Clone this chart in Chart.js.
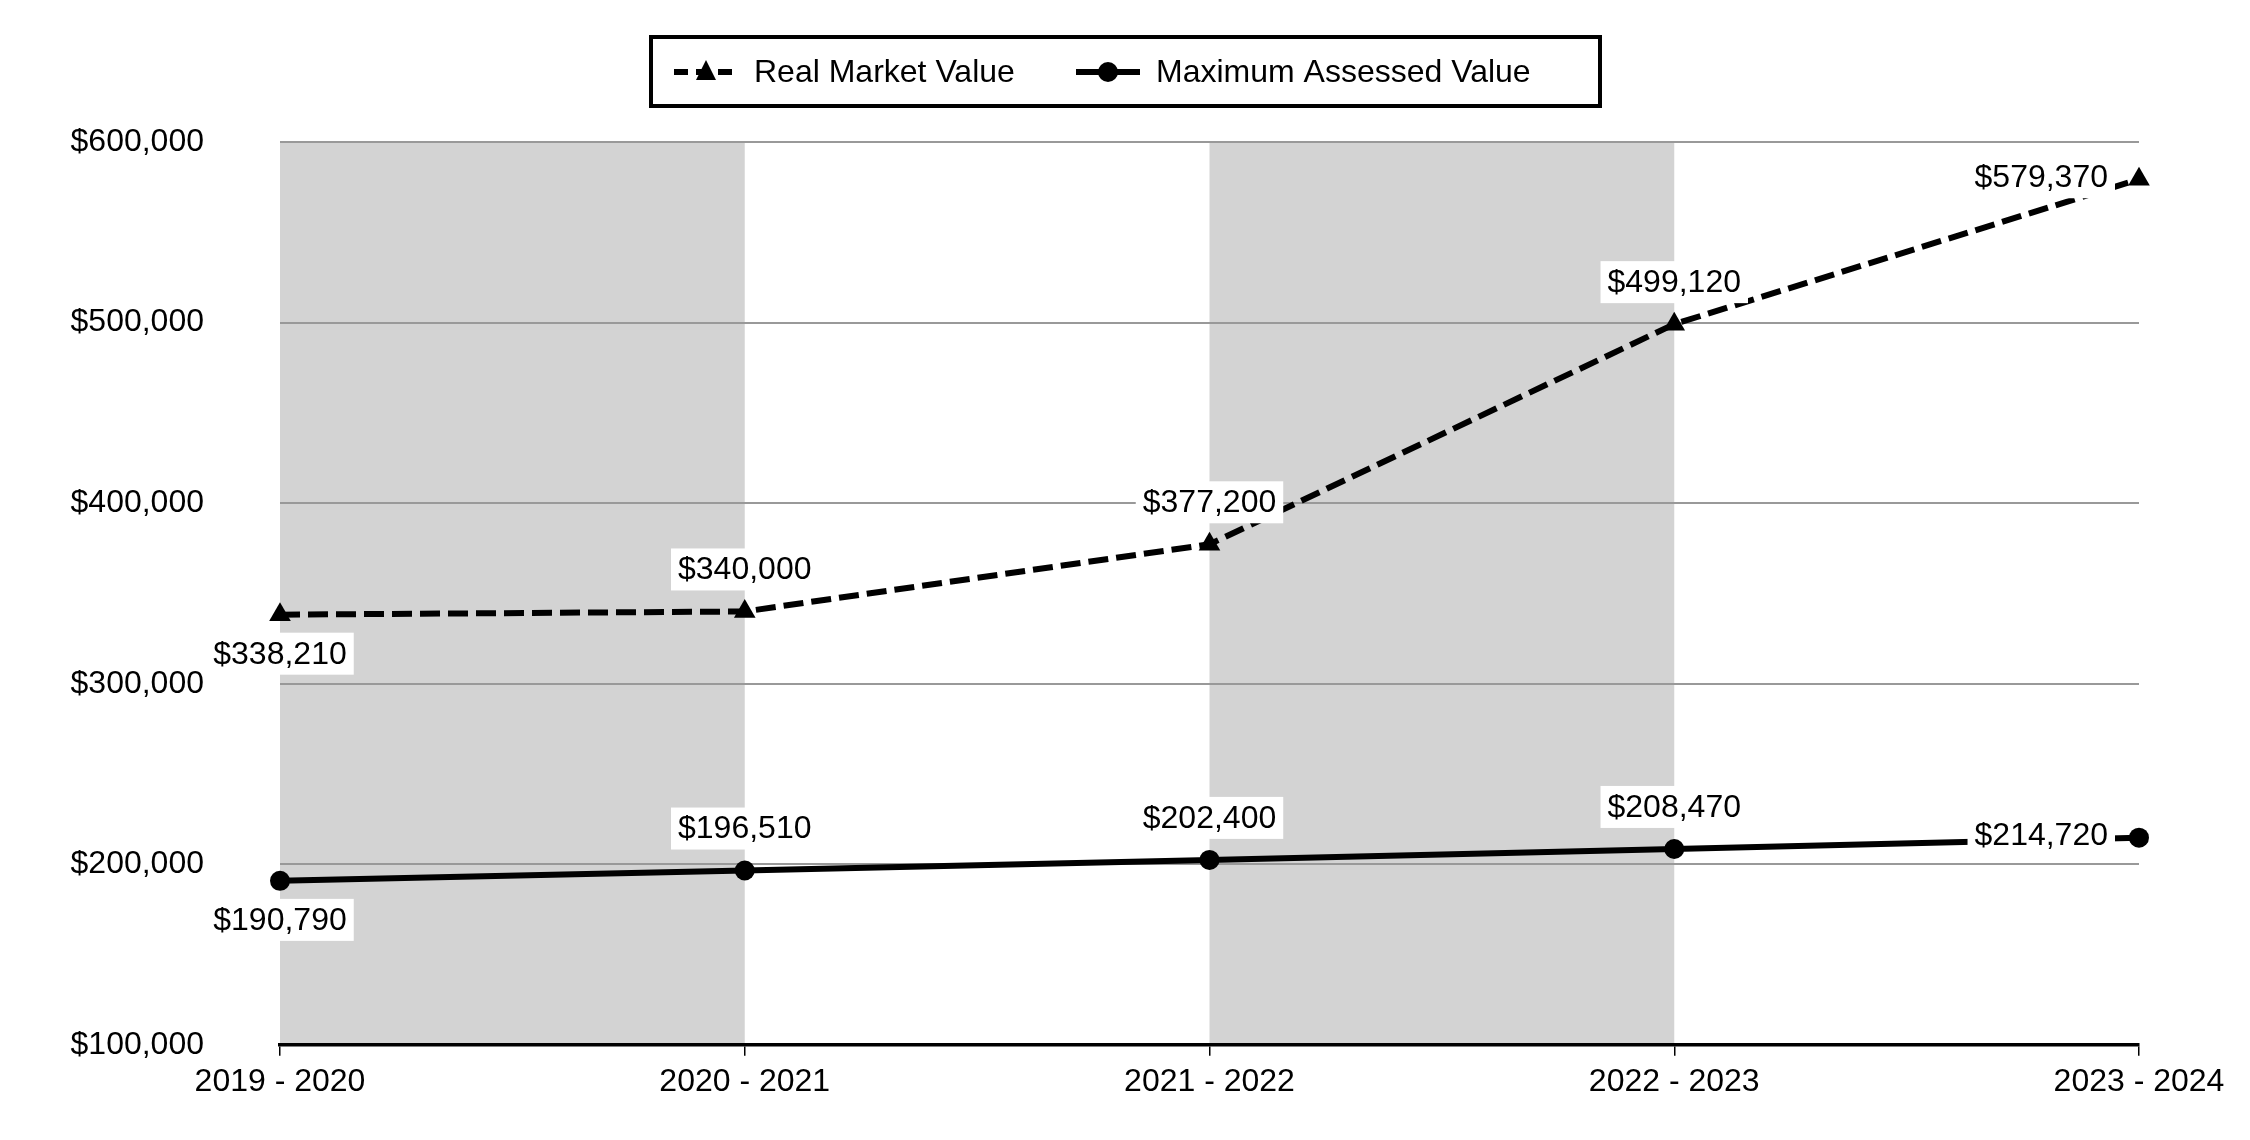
<!DOCTYPE html>
<html>
<head>
<meta charset="utf-8">
<script src="https://cdn.jsdelivr.net/npm/chart.js@4.4.1/dist/chart.umd.min.js"></script>
<style>
  html, body { margin: 0; padding: 0; background: #fff; }
  #wrap { width: 2250px; height: 1140px; }
</style>
</head>
<body>
<div id="wrap"><canvas id="valueChart" width="2250" height="1140"></canvas></div>
<script>
// chart data
const years = ['2019 - 2020', '2020 - 2021', '2021 - 2022', '2022 - 2023', '2023 - 2024'];
const realMarketValue = [338210, 340000, 377200, 499120, 579370];
const maxAssessedValue = [190790, 196510, 202400, 208470, 214720];
const yTicks = [100000, 200000, 300000, 400000, 500000, 600000];

// where each value label sits relative to its point
const labelSpots = [
    ['below', 'above', 'above', 'above', 'left'],
    ['below', 'above', 'above', 'above', 'left']
];

const FAMILY = '"Liberation Sans", Arial, sans-serif';
const FONT = '32px ' + FAMILY;
const money = v => '$' + v.toLocaleString('en-US');

// grey bands between every other pair of years
const bandsPlugin = {
    id: 'bands',
    beforeDraw(chart) {
        const { ctx, chartArea, scales } = chart;
        ctx.save();
        ctx.fillStyle = '#d3d3d3';
        for (let i = 0; i < years.length - 1; i += 2) {
            const x1 = scales.x.getPixelForValue(i);
            const x2 = scales.x.getPixelForValue(i + 1);
            ctx.fillRect(x1, chartArea.top, x2 - x1, chartArea.bottom - chartArea.top);
        }
        ctx.restore();
    }
};

// value labels on white boxes
const labelsPlugin = {
    id: 'valueLabels',
    afterDatasetsDraw(chart) {
        const ctx = chart.ctx;
        ctx.save();
        ctx.font = FONT;
        ctx.textAlign = 'center';
        ctx.textBaseline = 'middle';
        chart.data.datasets.forEach((ds, di) => {
            chart.getDatasetMeta(di).data.forEach((pt, i) => {
                const text = money(ds.data[i]);
                const w = ctx.measureText(text).width;
                let cx = pt.x, cy = pt.y;
                const spot = labelSpots[di][i];
                if (spot === 'above') cy -= 42;
                else if (spot === 'below') cy += 39;
                else if (spot === 'left') { cx -= 31 + w / 2; cy -= 2; }
                ctx.fillStyle = '#fff';
                ctx.fillRect(cx - w / 2 - 7, cy - 21, w + 14, 42);
                ctx.fillStyle = '#000';
                ctx.fillText(text, cx, cy + 1);
            });
        });
        ctx.restore();
    }
};

// boxed legend at the top
const legendPlugin = {
    id: 'boxLegend',
    afterDraw(chart) {
        const ctx = chart.ctx;
        ctx.save();
        ctx.strokeStyle = '#000';
        ctx.lineWidth = 4;
        ctx.strokeRect(651, 37, 949, 69);
        const y = 72;
        // dashed + triangle
        ctx.lineWidth = 6;
        ctx.setLineDash([14, 8]);
        ctx.beginPath(); ctx.moveTo(674, y); ctx.lineTo(739, y); ctx.stroke();
        ctx.setLineDash([]);
        ctx.fillStyle = '#000';
        ctx.beginPath();
        ctx.moveTo(706, y - 12); ctx.lineTo(716, y + 8); ctx.lineTo(696, y + 8); ctx.closePath(); ctx.fill();
        // solid + circle
        ctx.lineWidth = 6;
        ctx.beginPath(); ctx.moveTo(1076, y); ctx.lineTo(1140, y); ctx.stroke();
        ctx.beginPath(); ctx.arc(1108, y, 10, 0, Math.PI * 2); ctx.fill();
        ctx.font = FONT;
        ctx.textBaseline = 'middle';
        ctx.fillText(chart.data.datasets[0].label, 754, y + 1);
        ctx.fillText(chart.data.datasets[1].label, 1156, y + 1);
        ctx.restore();
    }
};

const ctx = document.getElementById('valueChart').getContext('2d');
new Chart(ctx, {
    type: 'line',
    data: {
        labels: years,
        datasets: [{
            label: 'Real Market Value',
            data: realMarketValue,
            borderColor: '#000',
            backgroundColor: '#000',
            borderWidth: 6,
            borderDash: [20, 8],
            pointStyle: 'triangle',
            pointRadius: 12.5,
            pointBorderWidth: 0,
            tension: 0,
            clip: false
        }, {
            label: 'Maximum Assessed Value',
            data: maxAssessedValue,
            borderColor: '#000',
            backgroundColor: '#000',
            borderWidth: 6,
            pointStyle: 'circle',
            pointRadius: 10,
            pointBorderWidth: 0,
            tension: 0,
            clip: false
        }]
    },
    options: {
        responsive: false,
        animation: false,
        devicePixelRatio: 1,
        layout: { padding: { left: 0, right: 111, top: 142, bottom: 0 } },
        plugins: { legend: { display: false }, tooltip: { enabled: false } },
        scales: {
            x: {
                offset: false,
                grid: { display: true, drawOnChartArea: false, drawTicks: true, tickLength: 11, color: '#000', lineWidth: 1.5 },
                border: { display: true, color: '#000', width: 3.5 },
                ticks: { color: '#000', font: { family: FAMILY, size: 32 }, padding: 7, maxRotation: 0 },
                afterFit: s => { s.height = 83; }
            },
            y: {
                min: yTicks[0],
                max: yTicks[yTicks.length - 1],
                afterBuildTicks: s => { s.ticks = yTicks.map(v => ({ value: v })); },
                grid: { drawTicks: false, color: '#999', lineWidth: 2 },
                border: { display: false },
                ticks: { color: '#000', font: { family: FAMILY, size: 32 }, padding: 76, callback: v => money(v) },
                afterFit: s => { s.width = 280; }
            }
        }
    },
    plugins: [bandsPlugin, labelsPlugin, legendPlugin]
});
</script>
</body>
</html>
